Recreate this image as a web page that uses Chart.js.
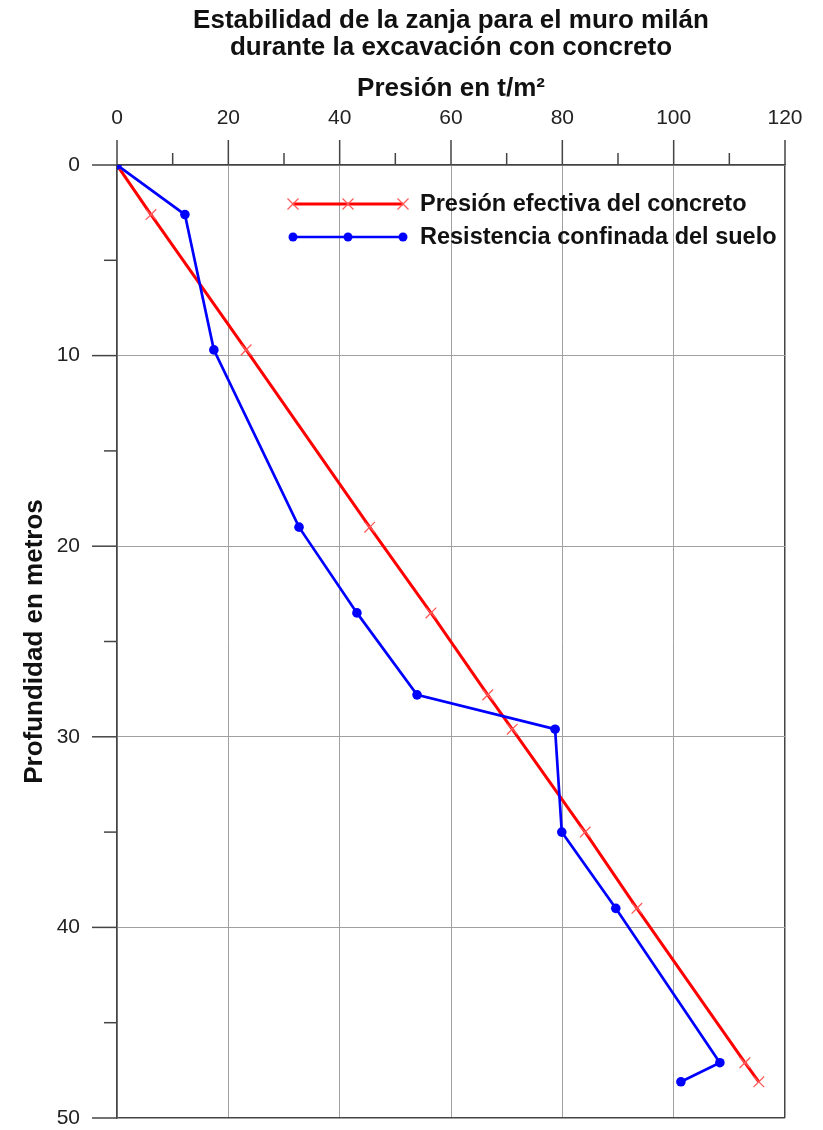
<!DOCTYPE html>
<html>
<head>
<meta charset="utf-8">
<script src="https://cdn.jsdelivr.net/npm/chart.js@4"></script>
<style>
  html, body { margin: 0; padding: 0; background: #fff; }
</style>
</head>
<body>
<canvas id="grafico" width="823" height="1130"></canvas>
<script>
// profundidad (m) de cada punto leido
const profundidad = [0, 2.6, 9.7, 19.0, 23.5, 27.8, 29.6, 35.0, 39.0, 47.1, 48.1];
// presion efectiva del concreto (t/m2)
const presionConcreto = [0, 6.1, 23.2, 45.4, 56.4, 66.6, 71.0, 84.1, 93.4, 112.8, 115.3];
// resistencia confinada del suelo (t/m2)
const resistenciaSuelo = [0, 12.2, 17.4, 32.7, 43.1, 53.9, 78.7, 79.9, 89.6, 108.3, 101.3];

const ticksX = [0, 20, 40, 60, 80, 100, 120];
const ticksY = [0, 10, 20, 30, 40, 50];

const nombres = ['Presión efectiva del concreto', 'Resistencia confinada del suelo'];

const fuente = "'Liberation Sans', Arial, Helvetica, sans-serif";
Chart.defaults.font.family = fuente;
Chart.defaults.color = '#222';

const puntos = (xs) => xs.map((v, i) => ({ x: v, y: profundidad[i] }));

// marcas de escala (mayores y menores) hacia fuera del area
const marcas = {
  id: 'marcas',
  afterDraw(chart) {
    const { ctx, chartArea: a, scales } = chart;
    ctx.save();
    ctx.strokeStyle = '#444';
    ctx.lineWidth = 1.5;
    for (let v = 0; v <= 120; v += 10) {
      const px = scales.x.getPixelForValue(v);
      const len = v % 20 === 0 ? 25 : 12;
      ctx.beginPath(); ctx.moveTo(px, a.top - len); ctx.lineTo(px, a.top); ctx.stroke();
    }
    for (let v = 0; v <= 50; v += 5) {
      const py = scales.y.getPixelForValue(v);
      const len = v % 10 === 0 ? 25 : 13;
      ctx.beginPath(); ctx.moveTo(a.left - len, py); ctx.lineTo(a.left, py); ctx.stroke();
    }
    ctx.restore();
  }
};

// leyenda con linea y tres marcadores
const leyenda = {
  id: 'leyenda',
  afterDraw(chart) {
    const { ctx, chartArea: a } = chart;
    const x0 = a.left + 176, x1 = x0 + 110;
    ctx.save();
    chart.data.datasets.forEach((ds, i) => {
      const y = a.top + 39 + i * 33;
      ctx.strokeStyle = ds.borderColor;
      ctx.lineWidth = ds.borderWidth;
      ctx.beginPath(); ctx.moveTo(x0, y); ctx.lineTo(x1, y); ctx.stroke();
      [x0, (x0 + x1) / 2, x1].forEach(px => {
        if (ds.pointStyle === 'crossRot') {
          ctx.strokeStyle = ds.pointBorderColor;
          ctx.lineWidth = ds.pointBorderWidth;
          const r = 5.5;
          ctx.beginPath();
          ctx.moveTo(px - r, y - r); ctx.lineTo(px + r, y + r);
          ctx.moveTo(px - r, y + r); ctx.lineTo(px + r, y - r);
          ctx.stroke();
        } else {
          ctx.fillStyle = ds.pointBackgroundColor;
          ctx.beginPath(); ctx.arc(px, y, 4.5, 0, Math.PI * 2); ctx.fill();
        }
      });
      ctx.fillStyle = '#111';
      ctx.font = 'bold 23.5px ' + fuente;
      ctx.textBaseline = 'middle';
      ctx.fillText(ds.label, x1 + 17, y + 1);
    });
    ctx.restore();
  }
};

new Chart(document.getElementById('grafico'), {
  type: 'scatter',
  data: {
    datasets: [{
      label: nombres[0],
      data: puntos(presionConcreto),
      showLine: true,
      borderColor: '#ff0000',
      borderWidth: 3,
      pointStyle: 'crossRot',
      pointRadius: 7.5,
      pointBorderColor: '#ff5a5a',
      pointBorderWidth: 1.3,
      pointBackgroundColor: '#ff5a5a',
      order: 2
    }, {
      label: nombres[1],
      data: puntos(resistenciaSuelo),
      showLine: true,
      borderColor: '#0000ff',
      borderWidth: 2.7,
      pointStyle: 'circle',
      pointRadius: 4.8,
      pointBorderWidth: 0,
      pointBackgroundColor: '#0000ff',
      order: 1
    }]
  },
  options: {
    responsive: false,
    animation: false,
    layout: { padding: { left: 0, right: 38, top: 0, bottom: 12 } },
    plugins: {
      legend: { display: false },
      tooltip: { enabled: false },
      title: {
        display: true,
        fullSize: false,
        text: ['Estabilidad de la zanja para el muro milán', 'durante la excavación con concreto'],
        font: { size: 26, weight: 'bold', lineHeight: 27 / 26 },
        color: '#111',
        padding: { top: 7, bottom: 0 }
      }
    },
    scales: {
      x: {
        type: 'linear',
        position: 'top',
        min: 0, max: 120,
        afterFit(s) { s.height = 104; s.paddingLeft = 0; s.paddingRight = 0; },
        afterBuildTicks(s) { s.ticks = ticksX.map(v => ({ value: v })); },
        ticks: { padding: 34, font: { size: 21 }, color: '#222' },
        grid: {
          drawTicks: false,
          color: c => (c.tick && c.tick.value === 120) ? '#444' : '#a0a0a0',
          lineWidth: c => (c.tick && c.tick.value === 120) ? 1.5 : 1
        },
        border: { color: '#444', width: 1.5 },
        title: {
          display: true,
          text: 'Presión en t/m²',
          font: { size: 26, weight: 'bold' },
          color: '#111',
          padding: { top: 12, bottom: 0 }
        }
      },
      y: {
        type: 'linear',
        reverse: true,
        min: 0, max: 50,
        afterFit(s) { s.width = 117; s.paddingTop = 0; s.paddingBottom = 0; },
        afterBuildTicks(s) { s.ticks = ticksY.map(v => ({ value: v })); },
        ticks: { padding: 37, font: { size: 21 }, color: '#222' },
        grid: {
          drawTicks: false,
          color: c => (c.tick && c.tick.value === 50) ? '#444' : '#a0a0a0',
          lineWidth: c => (c.tick && c.tick.value === 50) ? 1.5 : 1
        },
        border: { color: '#444', width: 1.5 },
        title: {
          display: true,
          text: 'Profundidad en metros',
          font: { size: 26, weight: 'bold' },
          color: '#111',
          padding: { top: 19, bottom: 0 }
        }
      }
    }
  },
  plugins: [marcas, leyenda]
});
</script>
</body>
</html>
